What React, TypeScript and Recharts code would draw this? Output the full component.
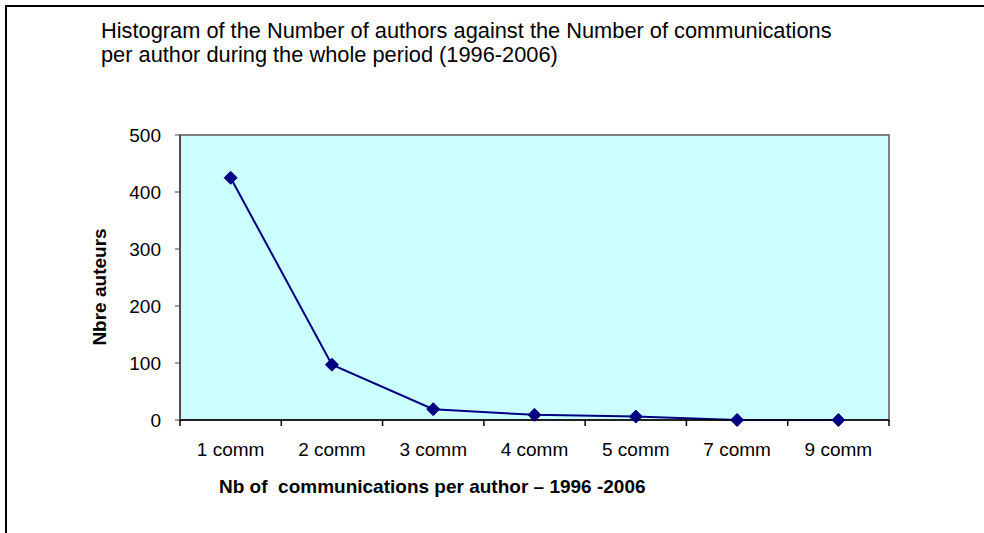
import { LineChart, Line, XAxis, YAxis, ReferenceArea } from 'recharts';

const categories = ['1 comm', '2 comm', '3 comm', '4 comm', '5 comm', '7 comm', '9 comm'];
const authors = [425, 97, 19, 9, 6, 0, 0];
const yTicks = [0, 100, 200, 300, 400, 500];

const data = categories.map((cat, i) => ({ cat, authors: authors[i] }));

const W = 984;
const H = 533;
const PLOT_LEFT = 180;
const PLOT_RIGHT = 889;
const PLOT_TOP = 135;
const PLOT_BOTTOM = 420;
const X_AXIS_H = 40;
const BAND = (PLOT_RIGHT - PLOT_LEFT) / categories.length;
const FONT = '"Liberation Sans", Arial, sans-serif';

// category labels with the tick marks drawn between categories, like Excel
function CatTick(props: any) {
  const { x, y, payload, index } = props;
  const left = x - BAND / 2;
  return (
    <g>
      <line x1={left} y1={y} x2={left} y2={y + 6} stroke="#000" strokeWidth={1.5} />
      {index === categories.length - 1 && (
        <line x1={left + BAND} y1={y} x2={left + BAND} y2={y + 6} stroke="#000" strokeWidth={1.5} />
      )}
      <text x={x} y={y + 36} textAnchor="middle" fontSize={19} fill="#000" fontFamily={FONT}>
        {payload.value}
      </text>
    </g>
  );
}

function Diamond(props: any) {
  const { cx, cy } = props;
  if (cx == null || cy == null) return null;
  const r = 6.5;
  return (
    <polygon
      points={`${cx},${cy - r} ${cx + r},${cy} ${cx},${cy + r} ${cx - r},${cy}`}
      fill="#000080"
      stroke="#000080"
    />
  );
}

export default function App() {
  return (
    <div style={{ position: 'absolute', left: 0, top: 0, width: W, height: H, overflow: 'hidden', background: '#fff' }}>
      <div
        style={{
          position: 'absolute',
          left: 5,
          top: 5,
          width: 1100,
          height: 700,
          border: '2px solid #000',
        }}
      />
      <div style={{ position: 'absolute', left: 0, top: 0 }}>
        <LineChart
          width={W}
          height={H}
          data={data}
          margin={{ top: PLOT_TOP, right: W - PLOT_RIGHT, bottom: H - PLOT_BOTTOM - X_AXIS_H, left: 0 }}
        >
          <ReferenceArea y1={0} y2={500} fill="#CCFFFF" fillOpacity={1} stroke="#808080" strokeWidth={2} />
          <XAxis
            dataKey="cat"
            scale="band"
            height={X_AXIS_H}
            axisLine={{ stroke: '#000', strokeWidth: 1.5 }}
            tickLine={false}
            tickSize={0}
            tickMargin={0}
            interval={0}
            tick={<CatTick />}
          />
          <YAxis
            width={PLOT_LEFT}
            domain={[0, 500]}
            ticks={yTicks}
            interval={0}
            axisLine={{ stroke: '#404040', strokeWidth: 1.5 }}
            tickLine={{ stroke: '#404040' }}
            tickSize={5}
            tickMargin={14}
            tick={{ fontSize: 19, fill: '#000', fontFamily: FONT }}
          />
          <Line
            dataKey="authors"
            stroke="#000080"
            strokeWidth={2}
            dot={<Diamond />}
            activeDot={false}
            isAnimationActive={false}
          />
        </LineChart>
      </div>
      <svg
        width={W}
        height={H}
        style={{ position: 'absolute', left: 0, top: 0, pointerEvents: 'none' }}
        fontFamily={FONT}
      >
        <text x={101} y={38} fontSize={21.8} fill="#000">
          Histogram of the Number of authors against the Number of communications
        </text>
        <text x={101} y={62} fontSize={21.8} fill="#000">
          per author during the whole period (1996-2006)
        </text>
        <text
          x={99}
          y={287}
          fontSize={19}
          fontWeight="bold"
          textAnchor="middle"
          transform="rotate(-90 99 287)"
          dominantBaseline="central"
          fill="#000"
        >
          Nbre auteurs
        </text>
        <text x={219} y={493} fontSize={19} fontWeight="bold" fill="#000" style={{ whiteSpace: 'pre' }}>
          {'Nb of  communications per author \u2013 1996 -2006'}
        </text>
      </svg>
    </div>
  );
}
